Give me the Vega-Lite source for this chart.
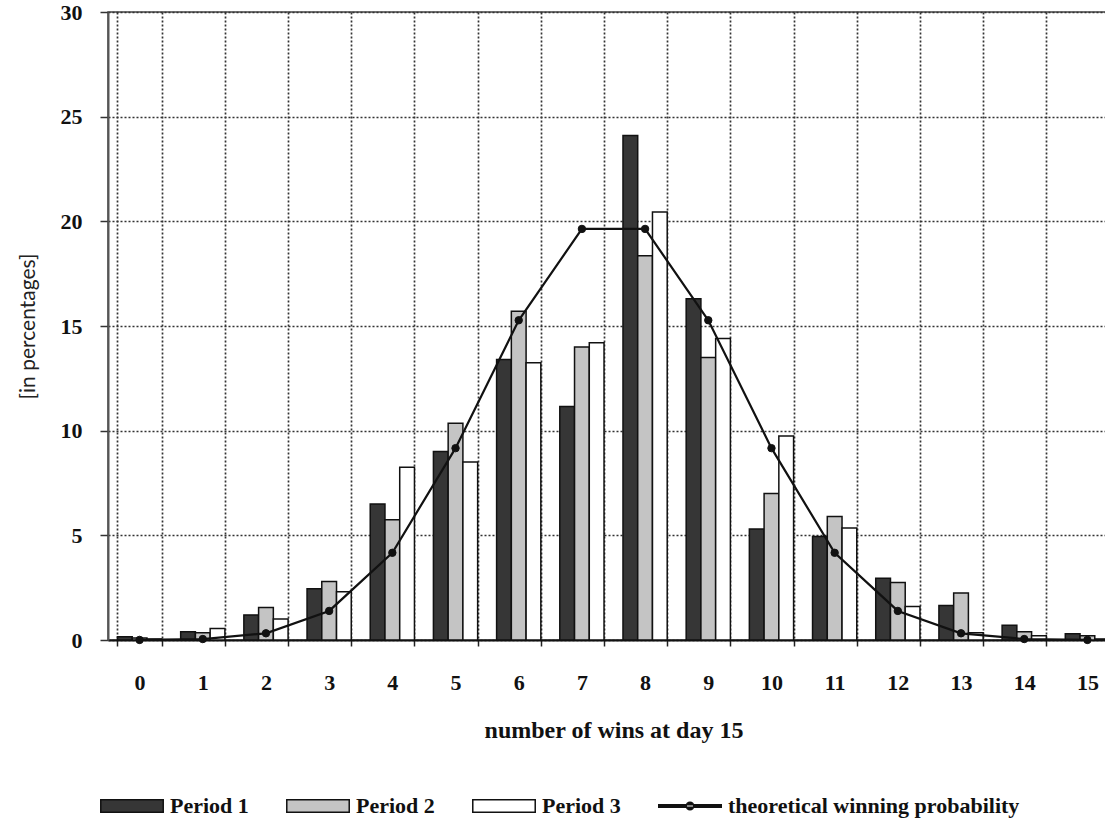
{
  "$schema": "https://vega.github.io/schema/vega-lite/v6.json",
  "width": 1011,
  "height": 628,
  "autosize": "none",
  "padding": {"left": 108, "top": 12, "right": -14, "bottom": 189},
  "background": "white",
  "config": {
    "view": {"stroke": "#444444", "strokeWidth": 1.5},
    "axis": {
      "labelFont": "Liberation Serif",
      "labelFontWeight": "bold",
      "labelFontSize": 22,
      "labelColor": "#111111",
      "gridColor": "#333333",
      "gridDash": [2, 2],
      "gridWidth": 1.7,
      "gridOpacity": 1
    }
  },
  "datasets": {
    "bars": [
      {"k": 0, "series": "Period 1", "value": 0.15},
      {"k": 0, "series": "Period 2", "value": 0.1},
      {"k": 0, "series": "Period 3", "value": 0.05},
      {"k": 1, "series": "Period 1", "value": 0.4},
      {"k": 1, "series": "Period 2", "value": 0.35},
      {"k": 1, "series": "Period 3", "value": 0.55},
      {"k": 2, "series": "Period 1", "value": 1.2},
      {"k": 2, "series": "Period 2", "value": 1.55},
      {"k": 2, "series": "Period 3", "value": 1.0},
      {"k": 3, "series": "Period 1", "value": 2.45},
      {"k": 3, "series": "Period 2", "value": 2.8},
      {"k": 3, "series": "Period 3", "value": 2.3},
      {"k": 4, "series": "Period 1", "value": 6.5},
      {"k": 4, "series": "Period 2", "value": 5.75},
      {"k": 4, "series": "Period 3", "value": 8.25},
      {"k": 5, "series": "Period 1", "value": 9.0},
      {"k": 5, "series": "Period 2", "value": 10.35},
      {"k": 5, "series": "Period 3", "value": 8.5},
      {"k": 6, "series": "Period 1", "value": 13.4},
      {"k": 6, "series": "Period 2", "value": 15.7},
      {"k": 6, "series": "Period 3", "value": 13.25},
      {"k": 7, "series": "Period 1", "value": 11.15},
      {"k": 7, "series": "Period 2", "value": 14.0},
      {"k": 7, "series": "Period 3", "value": 14.2},
      {"k": 8, "series": "Period 1", "value": 24.1},
      {"k": 8, "series": "Period 2", "value": 18.35},
      {"k": 8, "series": "Period 3", "value": 20.45},
      {"k": 9, "series": "Period 1", "value": 16.3},
      {"k": 9, "series": "Period 2", "value": 13.5},
      {"k": 9, "series": "Period 3", "value": 14.4},
      {"k": 10, "series": "Period 1", "value": 5.3},
      {"k": 10, "series": "Period 2", "value": 7.0},
      {"k": 10, "series": "Period 3", "value": 9.75},
      {"k": 11, "series": "Period 1", "value": 4.95},
      {"k": 11, "series": "Period 2", "value": 5.9},
      {"k": 11, "series": "Period 3", "value": 5.35},
      {"k": 12, "series": "Period 1", "value": 2.95},
      {"k": 12, "series": "Period 2", "value": 2.75},
      {"k": 12, "series": "Period 3", "value": 1.6},
      {"k": 13, "series": "Period 1", "value": 1.65},
      {"k": 13, "series": "Period 2", "value": 2.25},
      {"k": 13, "series": "Period 3", "value": 0.35},
      {"k": 14, "series": "Period 1", "value": 0.7},
      {"k": 14, "series": "Period 2", "value": 0.4},
      {"k": 14, "series": "Period 3", "value": 0.2},
      {"k": 15, "series": "Period 1", "value": 0.3},
      {"k": 15, "series": "Period 2", "value": 0.2},
      {"k": 15, "series": "Period 3", "value": 0.05}
    ],
    "theory": [
      {"k": 0, "value": 0.003},
      {"k": 1, "value": 0.046},
      {"k": 2, "value": 0.32},
      {"k": 3, "value": 1.389},
      {"k": 4, "value": 4.166},
      {"k": 5, "value": 9.164},
      {"k": 6, "value": 15.274},
      {"k": 7, "value": 19.638},
      {"k": 8, "value": 19.638},
      {"k": 9, "value": 15.274},
      {"k": 10, "value": 9.164},
      {"k": 11, "value": 4.166},
      {"k": 12, "value": 1.389},
      {"k": 13, "value": 0.32},
      {"k": 14, "value": 0.046},
      {"k": 15, "value": 0.003}
    ]
  },
  "layer": [
    {
      "data": {"name": "bars"},
      "mark": {"type": "bar", "stroke": "#111111", "strokeWidth": 1.5},
      "encoding": {
        "x": {
          "field": "k",
          "type": "ordinal",
          "scale": {"paddingInner": 0.3, "paddingOuter": 0.15},
          "axis": {
            "title": "number of wins at day 15",
            "titleFont": "Liberation Serif",
            "titleFontWeight": "bold",
            "titleFontSize": 24,
            "titleColor": "#111111",
            "titleY": 78,
            "titleBaseline": "top",
            "labelAngle": 0,
            "labelPadding": 26,
            "tickBand": "extent",
            "tickSize": 6,
            "tickColor": "#222222",
            "tickWidth": 1.5,
            "domainColor": "#111111",
            "domainWidth": 2,
            "grid": true
          }
        },
        "xOffset": {"field": "series", "scale": {"paddingInner": 0, "paddingOuter": 0}},
        "y": {
          "field": "value",
          "type": "quantitative",
          "scale": {"domain": [0, 30], "nice": false},
          "axis": {
            "title": "[in percentages]",
            "titleFont": "Lato",
            "titleFontWeight": "normal",
            "titleFontSize": 21,
            "titleColor": "#222222",
            "titleX": -80,
            "titleBaseline": "middle",
            "values": [0, 5, 10, 15, 20, 25, 30],
            "labelPadding": 18,
            "tickSize": 8,
            "tickColor": "#333333",
            "tickWidth": 1.5,
            "domainColor": "#555555",
            "domainWidth": 2,
            "grid": true
          }
        },
        "color": {
          "field": "series",
          "type": "nominal",
          "scale": {
            "domain": ["Period 1", "Period 2", "Period 3", "theoretical winning probability"],
            "range": ["#363636", "#c4c4c4", "#ffffff", "#111111"]
          },
          "legend": {
            "title": null,
            "orient": "none",
            "direction": "horizontal",
            "legendX": -8,
            "legendY": 762,
            "columns": 4,
            "symbolSize": 3900,
            "symbolStrokeWidth": 1.5,
            "symbolStrokeColor": "#111111",
            "labelFont": "Liberation Serif",
            "labelFontWeight": "bold",
            "labelFontSize": 22,
            "labelColor": "#111111",
            "labelLimit": 500,
            "labelOffset": 6,
            "columnPadding": 34,
            "encode": {
              "symbols": {
                "update": {
                  "shape": {"signal": "datum.value === 'theoretical winning probability' ? 'M-1,-0.04H1V0.04H-1Z M-0.12,0A0.12,0.12 0 1 0 0.12,0A0.12,0.12 0 1 0 -0.12,0Z' : 'M-1,-0.2H1V0.2H-1Z'"},
                  "stroke": {"value": "#111111"},
                  "strokeWidth": {"value": 1.5},
                  "opacity": {"value": 1}
                }
              }
            }
          }
        }
      }
    },
    {
      "data": {"name": "theory"},
      "mark": {"type": "line", "strokeWidth": 2.2, "color": "#111111", "point": {"filled": true, "size": 55, "fill": "#111111", "stroke": "#111111", "strokeWidth": 1}},
      "encoding": {
        "x": {"field": "k", "type": "ordinal"},
        "y": {"field": "value", "type": "quantitative"}
      }
    }
  ]
}
